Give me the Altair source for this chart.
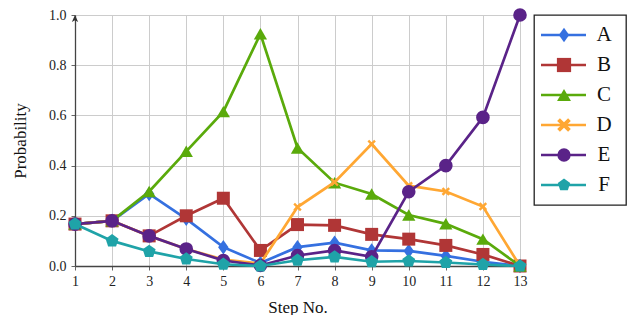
import altair as alt
import pandas as pd

steps = list(range(1, 14))
names = ["A", "B", "C", "D", "E", "F"]
A = [0.167, 0.18, 0.287, 0.188, 0.075, 0.012, 0.075, 0.093, 0.062, 0.06, 0.04, 0.017, 0.0]
B = [0.167, 0.18, 0.12, 0.20, 0.27, 0.062, 0.165, 0.162, 0.126, 0.107, 0.082, 0.046, 0.0]
C = [0.167, 0.18, 0.297, 0.457, 0.615, 0.925, 0.47, 0.332, 0.287, 0.203, 0.168, 0.107, 0.0]
D = [0.167, 0.18, 0.12, 0.068, 0.026, 0.01, 0.235, 0.334, 0.486, 0.32, 0.297, 0.237, 0.0]
E = [0.167, 0.18, 0.12, 0.068, 0.022, 0.002, 0.042, 0.062, 0.037, 0.296, 0.40, 0.592, 1.0]
F = [0.167, 0.10, 0.058, 0.028, 0.007, 0.0, 0.023, 0.036, 0.017, 0.02, 0.014, 0.006, 0.0]
series_values = [A, B, C, D, E, F]

colors = ["#3570e0", "#b03636", "#5aaa0b", "#ffa733", "#5a2388", "#1fa3a8"]
shapes = [
    "M0,-1 L0.72,0 L0,1 L-0.72,0 Z",
    "square",
    "triangle-up",
    "M-1,-0.6 L-0.6,-1 L0,-0.4 L0.6,-1 L1,-0.6 L0.4,0 L1,0.6 L0.6,1 L0,0.4 L-0.6,1 L-1,0.6 L-0.4,0 Z",
    "circle",
    "M0,-1 L0.951,-0.309 L0.588,0.809 L-0.588,0.809 L-0.951,-0.309 Z",
]
sizes = [210, 169, 175, 70, 185, 185]
y_ticks = [0.0, 0.2, 0.4, 0.6, 0.8, 1.0]

rows = []
for n, vals in zip(names, series_values):
    for s, v in zip(steps, vals):
        rows.append({"series": n, "step": s, "value": v})
df = pd.DataFrame(rows)

FONT = "Liberation Serif"

X = alt.X("step:Q", scale=alt.Scale(domain=[1, 13], nice=False, zero=False),
          axis=alt.Axis(values=steps, title="Step No.", format="d", labelFlush=False,
                        titlePadding=11))
Y = alt.Y("value:Q", scale=alt.Scale(domain=[0, 1], nice=False),
          axis=alt.Axis(values=y_ticks, title="Probability", format=".1f", titlePadding=19,
                        labelFlush=False))

layers = []
for n, c, sh, sz in zip(names, colors, shapes, sizes):
    sub = alt.Chart(df).transform_filter(alt.datum.series == n)
    layers.append(sub.mark_line(color=c, strokeWidth=2.7).encode(x=X, y=Y))
    layers.append(sub.mark_point(shape=sh, filled=True, size=sz, color=c, opacity=1).encode(x=X, y=Y))

arrow = alt.Chart(pd.DataFrame({"step": [1], "value": [1.0]})).mark_point(
    shape="M0,0 L-0.9,2 L0,1.5 L0.9,2 Z", filled=True, size=49, color="#333", opacity=1
).encode(x=X, y=Y)
layers.append(arrow)

main = alt.layer(*layers).properties(width=445, height=251)

leg_df = pd.DataFrame({"series": names})
LY = alt.Y("series:N", scale=alt.Scale(type="point", domain=names, padding=0.667), axis=None)
LC = alt.Color("series:N", scale=alt.Scale(domain=names, range=colors), legend=None)
LS = alt.Shape("series:N", scale=alt.Scale(domain=names, range=shapes), legend=None)
LSZ = alt.Size("series:N", scale=alt.Scale(domain=names, range=sizes), legend=None)

leg_rule = alt.Chart(leg_df).mark_rule(strokeWidth=2.7).encode(
    x=alt.value(7), x2=alt.value(52), y=LY, color=LC)
leg_pt = alt.Chart(leg_df).mark_point(filled=True, opacity=1).encode(
    x=alt.value(30), y=LY, color=LC, shape=LS, size=LSZ)
leg_txt = alt.Chart(leg_df).mark_text(font=FONT, fontSize=21, align="center", baseline="middle",
                                      color="#111").encode(
    x=alt.value(70), y=LY, text="series:N")
legend = alt.layer(leg_rule, leg_pt, leg_txt).properties(
    width=92, height=190,
    view=alt.ViewBackground(stroke="#222", strokeWidth=1.3))

chart = alt.hconcat(main, legend, spacing=14, bounds="flush").properties(
    padding={"left": 3, "top": 0, "right": 0, "bottom": 0}
).configure_view(stroke=None).configure_axis(
    labelFont=FONT, labelFontSize=14, labelColor="#222",
    titleFont=FONT, titleFontSize=17, titleFontWeight="normal", titleColor="#111",
    gridColor="#cccccc", gridWidth=1, domainColor="#444", domainWidth=1.3,
    tickColor="#666", tickSize=4, labelPadding=4,
).configure_axisY(labelPadding=5)

chart.save("out.html", embed_options={"renderer": "svg", "actions": False})
